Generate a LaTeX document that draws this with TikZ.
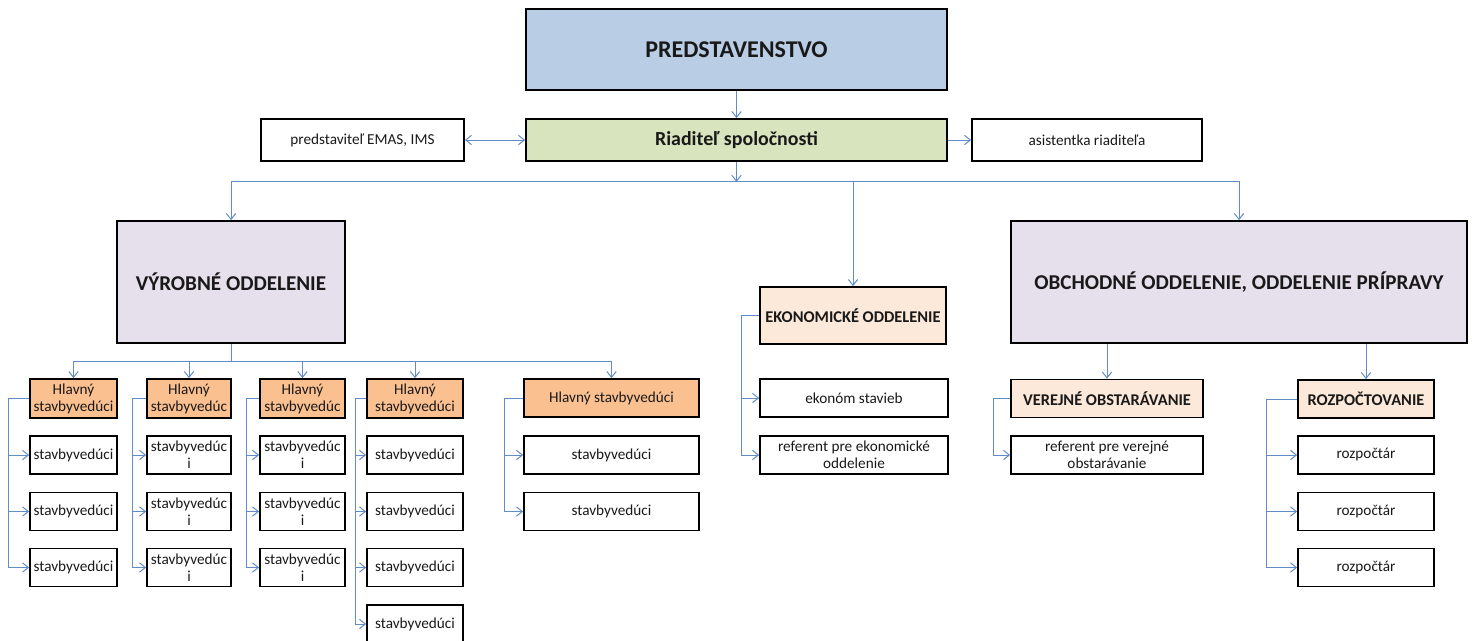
\documentclass[tikz,border=0pt]{standalone}
\usepackage{fontspec}
\setmainfont{Carlito}
\usetikzlibrary{arrows.meta}
\definecolor{predc}{RGB}{185,205,229}
\definecolor{riadc}{RGB}{215,228,189}
\definecolor{oddc}{RGB}{230,224,236}
\definecolor{sekc}{RGB}{253,233,217}
\definecolor{hlc}{RGB}{250,192,144}
\definecolor{lnk}{RGB}{96,140,200}
\definecolor{txt}{RGB}{25,25,25}

\begin{document}
\begin{tikzpicture}[x=0.03cm,y=-0.03cm,
    box/.style 2 args={draw=black,line width=1.5pt,inner sep=0pt,align=center,text=txt,
        minimum width=#1*0.03cm,minimum height=#2*0.03cm,font=\fontsize{13}{14.5}\selectfont},
    conn/.style={draw=lnk,line width=0.85pt},
    >={Straight Barb[length=5pt,width=8pt]}]%
    \useasboundingbox (0,0) rectangle (1477,640);
    % top
    \node[box={421}{81},fill=predc,font=\bfseries\fontsize{20.5}{24}\selectfont] (pred) at (736.5,49.5) {PREDSTAVENSTVO};
    \node[box={421}{42},fill=riadc,font=\bfseries\fontsize{17}{20}\selectfont] (riad) at (736.5,140) {Riaditeľ spoločnosti};
    \node[box={203}{42}] (emas) at (362.5,140) {predstaviteľ EMAS, IMS};
    \node[box={230}{42}] (asist) at (1087,140) {asistentka riaditeľa};
    % departments
    \node[box={228}{122},fill=oddc,font=\bfseries\fontsize{18}{22}\selectfont] (vyr) at (231,282) {VÝROBNÉ ODDELENIE};
    \node[box={186}{57},fill=sekc,font=\bfseries\fontsize{14}{17}\selectfont] (ekon) at (853,315.5) {EKONOMICKÉ ODDELENIE};
    \node[box={456}{122},fill=oddc,font=\bfseries\fontsize{18}{22}\selectfont] (obch) at (1239,282) {OBCHODNÉ ODDELENIE, ODDELENIE PRÍPRAVY};
    % vyrobne
    \foreach \n/\x/\w/\t/\s in {1/73.5/87/stavbyvedúci/stavbyvedúci, 2/189/84/stavbyvedúc/stavbyvedúc\\i,
        3/302.5/85/stavbyvedúc/stavbyvedúc\\i, 4/415/96/stavbyvedúci/stavbyvedúci} {
        \node[box={\w}{39},fill=hlc] (h\n) at (\x,398.5) {Hlavný\\\t};
        \foreach \r/\y in {1/455,2/511.5,3/567.5}
            \node[box={\w}{38}] (s\n\r) at (\x,\y) {\s};
    }
    \node[box={96}{38}] (s44) at (415,624) {stavbyvedúci};
    \node[box={175}{38},fill=hlc] (h5) at (611.5,398) {Hlavný stavbyvedúci};
    \foreach \r/\y in {1/455,2/511.5}
        \node[box={175}{38}] (s5\r) at (611.5,\y) {stavbyvedúci};
    % ekonomicke
    \node[box={188}{38}] (ek1) at (854,398) {ekonóm stavieb};
    \node[box={188}{38}] (ek2) at (854,455) {referent pre ekonomické\\oddelenie};
    % obchodne
    \node[box={192}{38},fill=sekc,font=\bfseries\fontsize{14}{17}\selectfont] (ver) at (1107,398.5) {VEREJNÉ OBSTARÁVANIE};
    \node[box={192}{38}] (vr1) at (1107,455) {referent pre verejné\\obstarávanie};
    \node[box={136}{38},fill=sekc,font=\bfseries\fontsize{14}{17}\selectfont] (roz) at (1366,399) {ROZPOČTOVANIE};
    \foreach \r/\y in {1/455,2/511.5,3/567.5}
        \node[box={136}{38}] (rz\r) at (1366,\y) {rozpočtár};
    % connectors
    \draw[conn,->] (pred) -- (riad);
    \draw[conn,<->] (emas) -- (riad);
    \draw[conn,->] (riad) -- (asist);
    \draw[conn,->] (riad.south) -- ++(0,20) coordinate (rb);
    \foreach \d in {vyr,ekon,obch} \draw[conn,->] (rb) -| (\d.north);
    \draw[conn] (vyr.south) -- ++(0,18) coordinate (vb);
    \foreach \h in {h1,h2,h3,h4,h5} \draw[conn,->] (vb) -| (\h.north);
    \foreach \c/\o in {1/21,2/14,3/13}
        \foreach \r in {1,2,3} \draw[conn,->] (h\c.west) -- ++(-\o,0) |- (s\c\r.west);
    \foreach \r in {1,2,3,4} \draw[conn,->] (h4.west) -- ++(-11,0) |- (s4\r.west);
    \foreach \r in {1,2} \draw[conn,->] (h5.west) -- ++(-19,0) |- (s5\r.west);
    \foreach \s in {ek1,ek2} \draw[conn,->] (ekon.west) -- ++(-18,0) |- (\s.west);
    \foreach \d in {ver,roz} \draw[conn,->] (obch.south -| \d.north) -- (\d.north);
    \draw[conn,->] (ver.west) -- ++(-17,0) |- (vr1.west);
    \foreach \r in {1,2,3} \draw[conn,->] (roz.west) -- ++(-31,0) |- (rz\r.west);
\end{tikzpicture}
\end{document}
